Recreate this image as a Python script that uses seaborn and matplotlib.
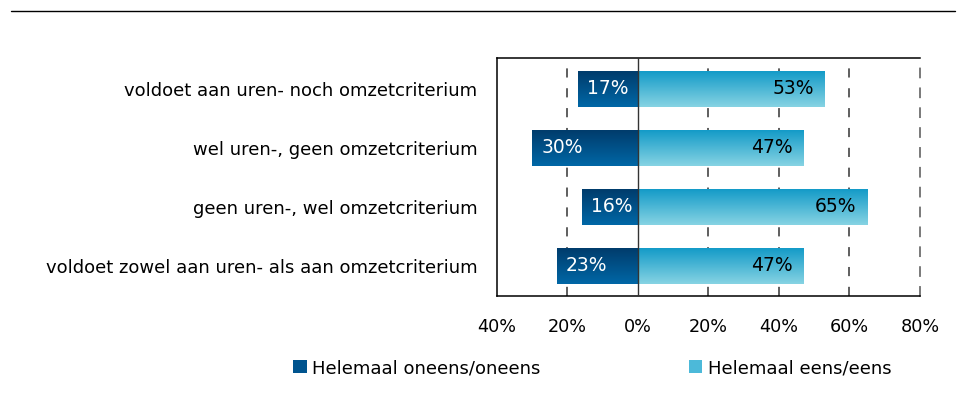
import numpy as np
import pandas as pd
import matplotlib
matplotlib.use('Agg')
import matplotlib.pyplot as plt
import matplotlib.colors as mcolors
from matplotlib.patches import Patch
import seaborn as sns

sns.set_theme(style='white')
plt.rcParams['font.family'] = ['DejaVu Sans']
plt.rcParams['text.color'] = 'black'
plt.rcParams['xtick.color'] = 'black'
plt.rcParams['ytick.color'] = 'black'

# ── data ─────────────────────────────────────────────
categories = ['voldoet aan uren- noch omzetcriterium',
              'wel uren-, geen omzetcriterium',
              'geen uren-, wel omzetcriterium',
              'voldoet zowel aan uren- als aan omzetcriterium']
oneens = [17, 30, 16, 23]
eens = [53, 47, 65, 47]
series = ['Helemaal oneens/oneens', 'Helemaal eens/eens']
xticks = [-40, -20, 0, 20, 40, 60, 80]

df = pd.DataFrame({
    'cat': categories * 2,
    'val': [-v for v in oneens] + eens,
    'serie': [series[0]] * 4 + [series[1]] * 4,
})

dark_top, dark_bot = '#003c6c', '#0067a6'
light_top, light_bot = '#149bc8', '#86d3e3'

fig = plt.figure(figsize=(9.57, 4.01), dpi=100)
ax = fig.add_axes([0.5193, 0.2618, 0.442, 0.5935])

sns.barplot(data=df, y='cat', x='val', hue='serie', orient='h', dodge=False,
            palette=[dark_bot, light_bot], width=0.61, ax=ax, legend=False,
            order=categories, hue_order=series)

# gradient fill on every bar
def grad_cmap(top, bot):
    return mcolors.LinearSegmentedColormap.from_list('g', [top, bot])

cm_dark = grad_cmap(dark_top, dark_bot)
cm_light = grad_cmap(light_top, light_bot)
grad = np.linspace(0, 1, 64).reshape(-1, 1)
for p in list(ax.patches):
    x0, y0 = p.get_x(), p.get_y()
    w, h = p.get_width(), p.get_height()
    cm = cm_dark if min(x0, x0 + w) < 0 else cm_light
    p.set_facecolor('none')
    p.set_edgecolor('none')
    im = ax.imshow(grad, cmap=cm, aspect='auto', interpolation='bilinear',
                   extent=[min(x0, x0 + w), max(x0, x0 + w), y0 + h, y0],
                   zorder=2)
    im.set_clip_path(p)
ax.set_xlim(-40, 80)
ax.set_ylim(3.51, -0.525)

# value labels
for i, (neg, pos) in enumerate(zip(oneens, eens)):
    ax.text(-neg + 2.6, i, f'{neg}%', color='white', fontsize=13.5,
            va='center', ha='left', zorder=4)
    ax.text(pos - 3.1, i, f'{pos}%', color='black', fontsize=13.5,
            va='center', ha='right', zorder=4)

# grid and axes
for xv in [-20, 20, 40, 60]:
    ax.axvline(xv, color='#333333', lw=1.1, ls=(0, (6, 7)), zorder=1)
ax.axvline(0, color='#333333', lw=1.0, zorder=3)

ax.set_xticks(xticks)
ax.set_xticklabels([f'{abs(t)}%' for t in xticks], fontsize=12.7)
ax.tick_params(axis='x', length=0, pad=16)
ax.tick_params(axis='y', length=0, pad=14, labelsize=13)
ax.set_xlabel('')
ax.set_ylabel('')
for s in ['left', 'top', 'bottom']:
    ax.spines[s].set_color('black')
    ax.spines[s].set_linewidth(1.1)
ax.spines['right'].set_color('#555555')
ax.spines['right'].set_linestyle((0, (6, 7)))
ax.spines['right'].set_linewidth(1.1)

# legend
handles = [Patch(facecolor='#00548f', edgecolor='none'),
           Patch(facecolor='#4cb9d9', edgecolor='none')]
fig.legend(handles, series, loc='center left', bbox_to_anchor=(0.2895, 0.082),
           ncol=2, frameon=False, fontsize=13, handlelength=0.75,
           handleheight=0.75, handletextpad=0.3, columnspacing=8.2)

# top rule
fig.add_artist(plt.Line2D([11 / 957, 955 / 957], [1 - 11 / 401, 1 - 11 / 401],
                          color='black', lw=1.0))

plt.savefig('out.png', dpi=100)
